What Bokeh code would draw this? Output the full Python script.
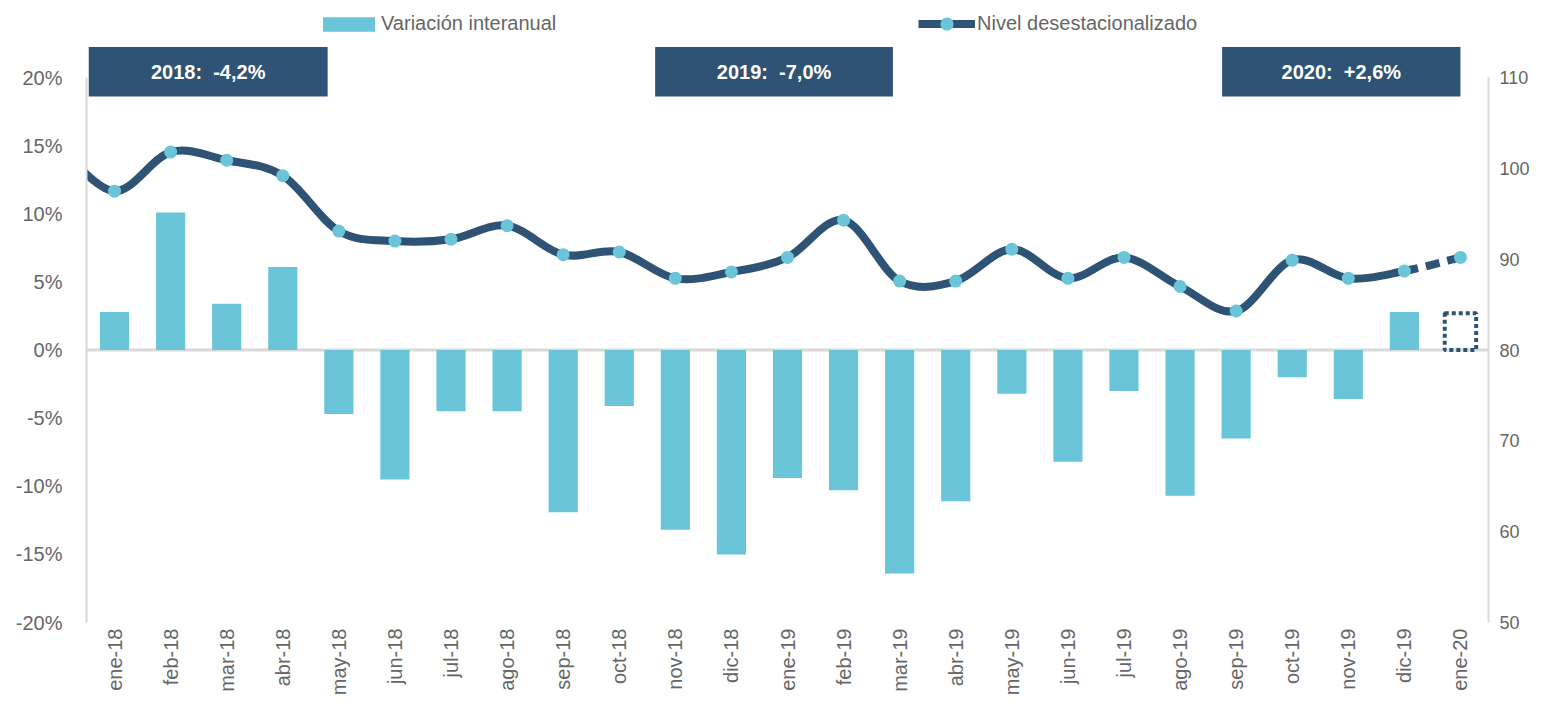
import math
import numpy as np
from bokeh.plotting import figure
from bokeh.models import (Range1d, LinearAxis, FixedTicker, PrintfTickFormatter,
                          Span, Legend, LegendItem)
from bokeh.core.properties import value
from bokeh.embed import file_html
from bokeh.resources import INLINE

# ---------------- data ----------------
months = ["ene-18", "feb-18", "mar-18", "abr-18", "may-18", "jun-18", "jul-18",
          "ago-18", "sep-18", "oct-18", "nov-18", "dic-18", "ene-19", "feb-19",
          "mar-19", "abr-19", "may-19", "jun-19", "jul-19", "ago-19", "sep-19",
          "oct-19", "nov-19", "dic-19", "ene-20"]
# year-on-year variation (%); last value (ene-20) is provisional (dotted box)
variacion = [2.8, 10.1, 3.4, 6.1, -4.7, -9.5, -4.5, -4.5, -11.9, -4.1, -13.2,
             -15.0, -9.4, -10.3, -16.4, -11.1, -3.2, -8.2, -3.0, -10.7, -6.5,
             -2.0, -3.6, 2.8, 2.7]
# seasonally adjusted level (right axis)
nivel = [97.5, 101.8, 100.9, 99.2, 93.1, 92.0, 92.2, 93.7, 90.5, 90.8, 87.9,
         88.6, 90.2, 94.3, 87.6, 87.6, 91.1, 87.9, 90.2, 87.0, 84.3, 89.9,
         87.9, 88.7, 90.2]
nivel_dic17 = 102.5  # previous point (dic-17), outside the visible range
annual_labels = ["2018:\u00a0 -4,2%", "2019:\u00a0 -7,0%", "2020:\u00a0 +2,6%"]
left_ticks = [-20, -15, -10, -5, 0, 5, 10, 15, 20]
right_ticks = [50, 60, 70, 80, 90, 100, 110]

# ---------------- layout / style ----------------
W, H = 1532, 698
B_LEFT, B_RIGHT, B_TOP, B_BOTTOM = 86, 43, 10, 68
frame_h = H - B_TOP - B_BOTTOM
axis_px = 552.0  # pixels spanned by -20..20 / 50..110
BAR = "#6BC5D8"
DARK = "#2E5374"
GRAY = "#666666"
AXGRAY = "#D9D9D9"
FONT = value("Liberation Sans")

box_lr = [(-0.46, 3.80), (9.64, 13.88), (19.75, 24.0)]
box_bottom, box_top, box_text_y = 18.62, 22.25, 20.43

p = figure(width=W, height=H, output_backend="svg", toolbar_location=None,
           min_border_left=B_LEFT, min_border_right=B_RIGHT,
           min_border_top=B_TOP, min_border_bottom=B_BOTTOM,
           x_range=Range1d(-0.5, 24.5),
           y_range=Range1d(-20, -20 + 40 * frame_h / axis_px))
p.extra_y_ranges = {"right": Range1d(50, 50 + 60 * frame_h / axis_px)}
p.outline_line_color = None
p.xgrid.visible = False
p.ygrid.visible = False
p.background_fill_color = "white"
p.border_fill_color = "white"

x = list(range(len(months)))

# zero line
p.add_layout(Span(location=0, dimension="width", line_color=AXGRAY,
                  line_width=3, level="underlay"))

# bars
bar_r = p.vbar(x=x[:-1], top=variacion[:-1], width=0.52, fill_color=BAR,
               line_color=None)
p.vbar(x=[x[-1]], top=[variacion[-1]], bottom=0, width=0.56, fill_color=None,
       line_color=DARK, line_width=4, line_dash="4 3")

# smooth line (Catmull-Rom style Bezier segments, like Excel smoothing)
xs = [-1] + x
ys = [nivel_dic17] + nivel
n = len(xs)
def pt(i):
    i = max(0, min(n - 1, i))
    return xs[i], ys[i]
segs = {"x0": [], "y0": [], "x1": [], "y1": [], "cx0": [], "cy0": [], "cx1": [], "cy1": []}
for i in range(n - 1):
    xa, ya = pt(i - 1); x0, y0 = pt(i); x1, y1 = pt(i + 1); xb, yb = pt(i + 2)
    segs["x0"].append(x0); segs["y0"].append(y0)
    segs["x1"].append(x1); segs["y1"].append(y1)
    segs["cx0"].append(x0 + (x1 - xa) / 6); segs["cy0"].append(y0 + (y1 - ya) / 6)
    segs["cx1"].append(x1 - (xb - x0) / 6); segs["cy1"].append(y1 - (yb - y0) / 6)
solid = {k: v[:-1] for k, v in segs.items()}
dashed = {k: v[-1:] for k, v in segs.items()}
p.bezier(**solid, line_color=DARK, line_width=8, line_cap="round",
         y_range_name="right")
p.bezier(**dashed, line_color=DARK, line_width=8, line_dash="14 8",
         y_range_name="right")
line_leg = p.line(x=[np.nan], y=[np.nan], line_color=DARK, line_width=8,
                  y_range_name="right")
mark_r = p.scatter(x=x, y=nivel, size=13, fill_color=BAR, line_color=None,
                   y_range_name="right")

# annual boxes
p.quad(left=[a for a, b in box_lr], right=[b for a, b in box_lr],
       bottom=box_bottom, top=box_top, fill_color=DARK, line_color=None)
p.text(x=[(a + b) / 2 for a, b in box_lr], y=[box_text_y] * 3, text=annual_labels,
       text_align="center", text_baseline="middle", text_color="white",
       text_font=FONT, text_font_style="bold", text_font_size="20px")

# axes
ly = p.yaxis[0]
ly.ticker = FixedTicker(ticks=left_ticks)
ly.formatter = PrintfTickFormatter(format="%d%%")
ly.bounds = (-20, 20)
ry = LinearAxis(y_range_name="right", ticker=FixedTicker(ticks=right_ticks))
ry.bounds = (50, 110)
p.add_layout(ry, "right")
for ax, so, fs in [(ly, 24, "20px"), (ry, 11, "18px")]:
    ax.axis_line_color = AXGRAY
    ax.axis_line_width = 2
    ax.major_tick_line_color = None
    ax.minor_tick_line_color = None
    ax.major_tick_out = 0
    ax.major_tick_in = 0
    ax.major_label_standoff = so
    ax.major_label_text_font = "Liberation Sans"
    ax.major_label_text_font_size = fs
    ax.major_label_text_color = GRAY

xa = p.xaxis[0]
xa.ticker = FixedTicker(ticks=x)
xa.major_label_overrides = {i: m for i, m in enumerate(months)}
xa.major_label_orientation = math.pi / 2
xa.axis_line_color = None
xa.major_tick_line_color = None
xa.minor_tick_line_color = None
xa.major_tick_out = 0
xa.major_tick_in = 0
xa.major_label_standoff = 6
xa.major_label_text_font = "Liberation Sans"
xa.major_label_text_font_size = "20px"
xa.major_label_text_color = GRAY

common = dict(orientation="horizontal", border_line_color=None,
              background_fill_alpha=0, padding=0, margin=0,
              label_text_font="Liberation Sans", label_text_font_size="20px",
              label_text_color=GRAY, label_height=20)
leg_bar = Legend(items=[LegendItem(label="Variación interanual", renderers=[bar_r])],
                 location=(230, frame_h - 33), label_standoff=0,
                 glyph_width=65, glyph_height=18, **common)
leg_line = Legend(items=[LegendItem(label="Nivel desestacionalizado",
                                    renderers=[line_leg, mark_r])],
                  location=(832, frame_h - 38), label_standoff=2,
                  glyph_width=57, glyph_height=33, **common)
p.add_layout(leg_bar)
p.add_layout(leg_line)

open("out.html", "w").write(file_html(p, INLINE))
